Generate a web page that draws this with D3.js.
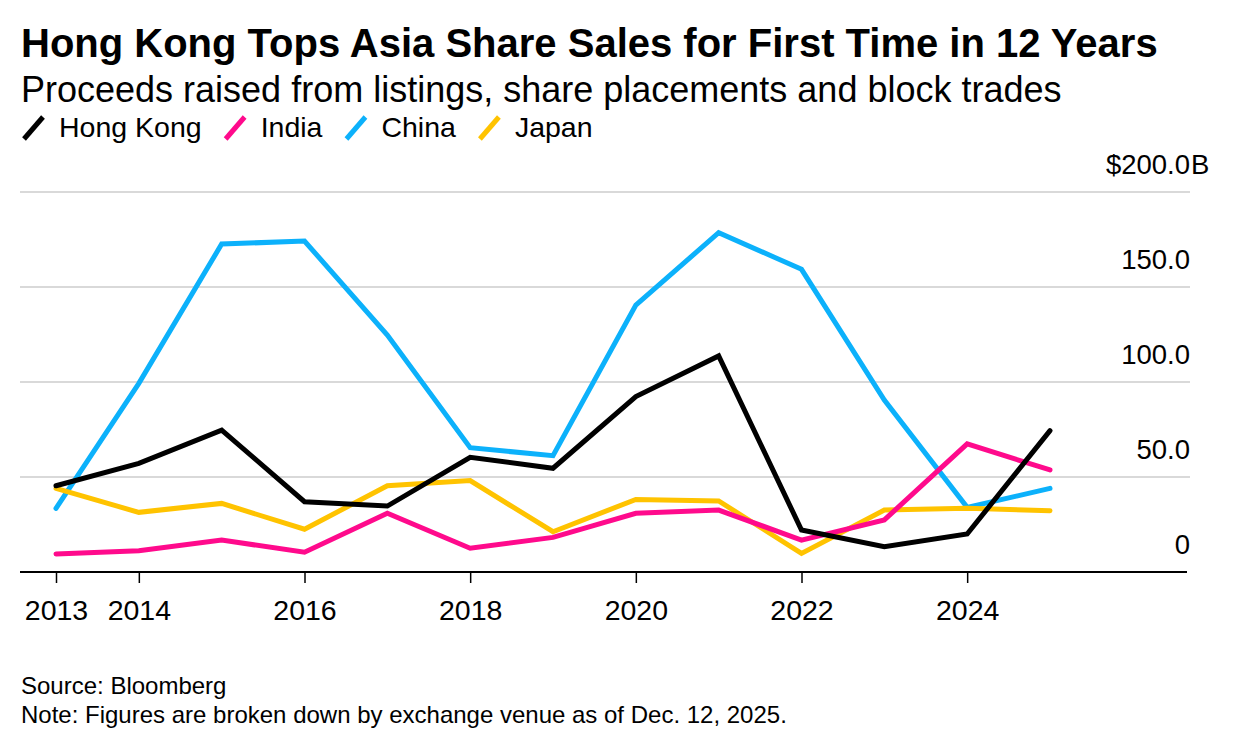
<!DOCTYPE html>
<html>
<head>
<meta charset="utf-8">
<script src="https://cdn.jsdelivr.net/npm/d3@7"></script>
<style>
  body { margin: 0; background: #fff; }
  svg { font-family: "Liberation Sans", Arial, sans-serif; }
</style>
</head>
<body>
<svg width="1236" height="750"></svg>
<script>
const years = [2013, 2014, 2015, 2016, 2017, 2018, 2019, 2020, 2021, 2022, 2023, 2024, 2025];
const hongKong = [45.4, 57.2, 74.7, 37.0, 34.7, 60.4, 54.6, 92.3, 113.7, 22.1, 13.3, 20.0, 74.4];
const india = [9.5, 11.2, 16.8, 10.4, 30.9, 12.5, 18.2, 30.9, 32.6, 16.8, 27.4, 67.4, 53.7];
const china = [33.5, 99.3, 172.6, 174.2, 124.7, 65.4, 61.2, 140.5, 178.6, 159.3, 90.5, 34.0, 44.0];
const japan = [44.0, 31.4, 36.1, 22.5, 45.4, 48.1, 21.2, 38.2, 37.4, 9.8, 32.6, 33.5, 32.3];
const tickYears = [2013, 2014, 2016, 2018, 2020, 2022, 2024];
const yTicks = [0, 50, 100, 150, 200];

const series = [
  { name: 'Hong Kong', values: hongKong, color: '#000000' },
  { name: 'India', values: india, color: '#ff0a8c' },
  { name: 'China', values: china, color: '#0cb1fb' },
  { name: 'Japan', values: japan, color: '#ffc300' }
];
// draw order: china at back, hong kong on top
const drawOrder = ['China', 'Japan', 'India', 'Hong Kong'];

const svg = d3.select('svg');

const xScale = d3.scaleLinear()
   .domain([2013, 2025])
   .range([56, 1050]);
const yScale = d3.scaleLinear()
   .domain([0, 200])
   .range([572, 192]);

// title block
svg.append('text')
   .attr('x', 21).attr('y', 57)
   .style('font-weight', 'bold').style('font-size', '40px')
   .text('Hong Kong Tops Asia Share Sales for First Time in 12 Years');
svg.append('text')
   .attr('x', 21).attr('y', 102)
   .style('font-size', '36px')
   .text('Proceeds raised from listings, share placements and block trades');

// legend
let lx = 22;
series.forEach((s, i) => {
  const g = svg.append('g').attr('transform', `translate(${lx},0)`);
  g.append('line')
     .attr('x1', 2).attr('y1', 139).attr('x2', 21).attr('y2', 117)
     .attr('stroke', s.color).attr('stroke-width', 5);
  const t = g.append('text')
     .attr('x', 37).attr('y', 137)
     .style('font-size', '28.5px')
     .text(s.name);
  lx += 37 + t.node().getComputedTextLength() + 22;
});

// gridlines + right labels
const grid = svg.append('g');
grid.selectAll('line')
   .data(yTicks.filter(d => d > 0))
   .enter()
   .append('line')
   .attr('x1', 20).attr('x2', 1190)
   .attr('y1', d => yScale(d)).attr('y2', d => yScale(d))
   .attr('stroke', '#d9d9d9').attr('stroke-width', 2);

grid.selectAll('text')
   .data(yTicks)
   .enter()
   .append('text')
   .attr('x', 1190)
   .attr('y', d => yScale(d) - 18)
   .attr('text-anchor', 'end')
   .style('font-size', '27.5px')
   .text(d => d === 0 ? '0' : (d === 200 ? '$' : '') + d3.format('.1f')(d));
svg.append('text')
   .attr('x', 1191).attr('y', yScale(200) - 18)
   .style('font-size', '27.5px')
   .text('B');

// lines
const line = d3.line()
   .x((d, i) => xScale(years[i]))
   .y(d => yScale(d));

svg.append('g')
   .selectAll('path')
   .data(drawOrder.map(n => series.find(s => s.name === n)))
   .enter()
   .append('path')
   .attr('d', d => line(d.values))
   .attr('fill', 'none')
   .attr('stroke', d => d.color)
   .attr('stroke-width', 5)
   .attr('stroke-linejoin', 'miter')
   .attr('stroke-linecap', 'round');

// x axis
const xAxis = svg.append('g')
   .attr('transform', `translate(0,${yScale(0)})`)
   .call(d3.axisBottom(xScale).tickValues(tickYears).tickFormat(d3.format('d')).tickSize(11).tickSizeOuter(0));
xAxis.select('.domain').remove();
xAxis.selectAll('.tick line').attr('stroke', '#000').attr('stroke-width', 1.5);
xAxis.selectAll('.tick text')
   .attr('y', 48)
   .attr('dy', 0)
   .style('font-size', '28.5px')
   .style('font-family', '"Liberation Sans", Arial, sans-serif')
   .attr('fill', '#000');
svg.append('line')
   .attr('x1', 20).attr('x2', 1187)
   .attr('y1', yScale(0)).attr('y2', yScale(0))
   .attr('stroke', '#000').attr('stroke-width', 2);

// footer
svg.append('text')
   .attr('x', 21).attr('y', 694)
   .style('font-size', '24px')
   .text('Source: Bloomberg');
svg.append('text')
   .attr('x', 21).attr('y', 723)
   .style('font-size', '24px')
   .text('Note: Figures are broken down by exchange venue as of Dec. 12, 2025.');
</script>
</body>
</html>
